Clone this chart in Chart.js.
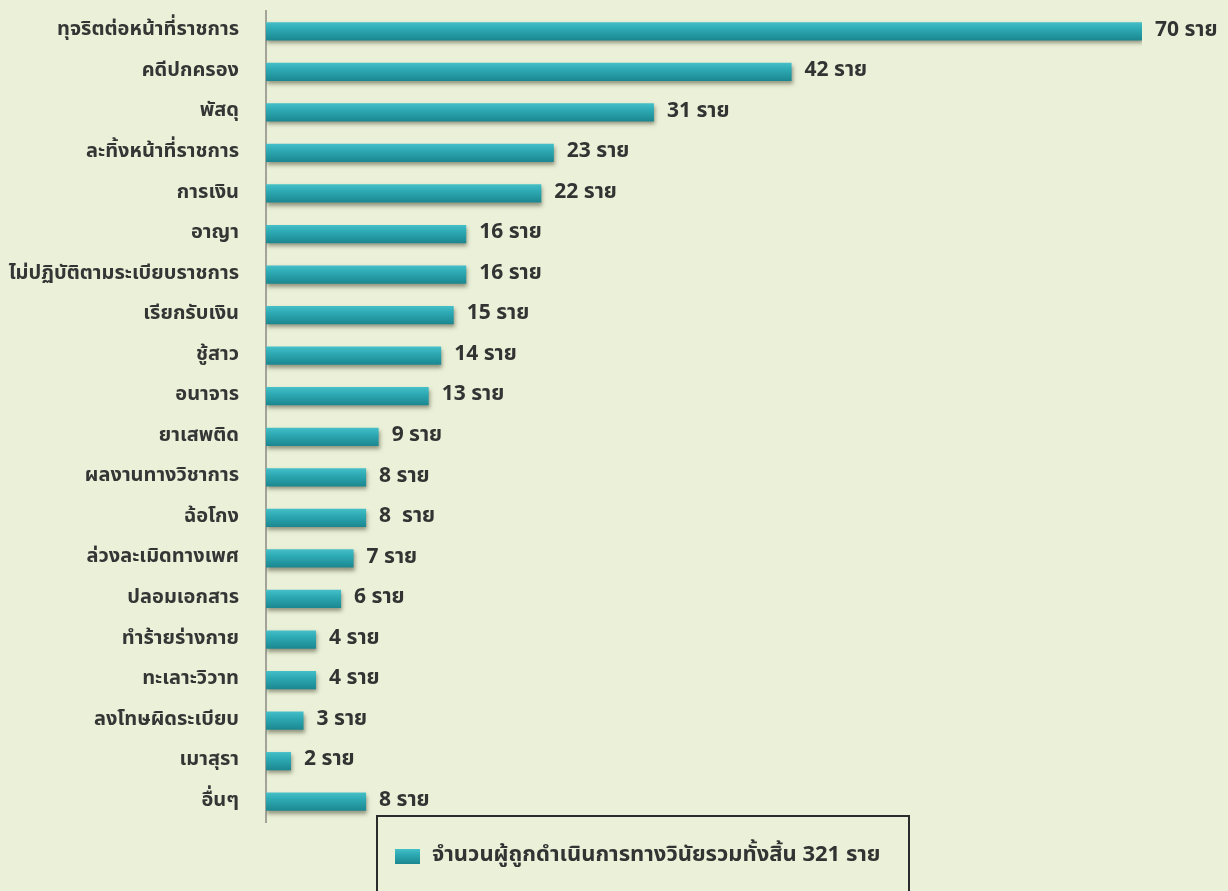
<!DOCTYPE html>
<html>
<head>
<meta charset="utf-8">
<script src="https://cdn.jsdelivr.net/npm/chart.js@4.4.0/dist/chart.umd.min.js"></script>
<style>
  html, body { margin: 0; padding: 0; background: #ebf1d8; overflow: hidden; }
  #wrap { width: 1228px; height: 891px; position: relative; }
</style>
</head>
<body>
<div id="wrap"><canvas id="chart" width="1228" height="891"></canvas></div>
<script>
const categories = [
  'ทุจริตต่อหน้าที่ราชการ', 'คดีปกครอง', 'พัสดุ', 'ละทิ้งหน้าที่ราชการ', 'การเงิน',
  'อาญา', 'ไม่ปฏิบัติตามระเบียบราชการ', 'เรียกรับเงิน', 'ชู้สาว', 'อนาจาร',
  'ยาเสพติด', 'ผลงานทางวิชาการ', 'ฉ้อโกง', 'ล่วงละเมิดทางเพศ', 'ปลอมเอกสาร',
  'ทำร้ายร่างกาย', 'ทะเลาะวิวาท', 'ลงโทษผิดระเบียบ', 'เมาสุรา', 'อื่นๆ'
];
const counts = [70, 42, 31, 23, 22, 16, 16, 15, 14, 13, 9, 8, 8, 7, 6, 4, 4, 3, 2, 8];
const valueLabels = [
  '70 ราย', '42 ราย', '31 ราย', '23 ราย', '22 ราย', '16 ราย', '16 ราย', '15 ราย', '14 ราย', '13 ราย',
  '9 ราย', '8 ราย', '8  ราย', '7 ราย', '6 ราย', '4 ราย', '4 ราย', '3 ราย', '2 ราย', '8 ราย'
];
const legendLabel = 'จำนวนผู้ถูกดำเนินการทางวินัยรวมทั้งสิ้น 321 ราย';

const FONT = '"Noto Sans Thai", Tahoma, "Noto Sans", "DejaVu Sans", sans-serif';

function tealGradient(ctx, top, bottom) {
  const g = ctx.createLinearGradient(0, top, 0, bottom);
  g.addColorStop(0, '#45bfc8');
  g.addColorStop(0.35, '#2eabb5');
  g.addColorStop(1, '#1b8790');
  return g;
}

// shadow under the bars
const barShadow = {
  id: 'barShadow',
  beforeDatasetsDraw(chart) {
    const ctx = chart.ctx;
    ctx.save();
    ctx.shadowColor = 'rgba(60, 60, 40, 0.5)';
    ctx.shadowBlur = 4;
    ctx.shadowOffsetY = 3;
    ctx.shadowOffsetX = 1;
  },
  afterDatasetsDraw(chart) {
    chart.ctx.restore();
  }
};

// "xx ราย" after each bar
const valueText = {
  id: 'valueText',
  afterDatasetsDraw(chart) {
    const ctx = chart.ctx;
    const meta = chart.getDatasetMeta(0);
    ctx.save();
    ctx.font = 'bold 21px ' + FONT;
    ctx.fillStyle = '#333333';
    ctx.textAlign = 'left';
    ctx.textBaseline = 'middle';
    meta.data.forEach((bar, i) => {
      ctx.fillText(valueLabels[i], bar.x + 13, bar.y);
    });
    ctx.restore();
  }
};

// boxed legend under the chart
const boxLegend = {
  id: 'boxLegend',
  afterDraw(chart) {
    const ctx = chart.ctx;
    ctx.save();
    ctx.strokeStyle = '#2b2b2b';
    ctx.lineWidth = 2;
    ctx.strokeRect(377, 816, 532, 90);
    ctx.fillStyle = tealGradient(ctx, 849, 864);
    ctx.fillRect(395, 849, 25, 15);
    ctx.font = 'bold 22px ' + FONT;
    ctx.fillStyle = '#333333';
    ctx.textBaseline = 'middle';
    ctx.fillText(legendLabel, 432, 857);
    ctx.restore();
  }
};

const myChart = new Chart(document.getElementById('chart'), {
  type: 'bar',
  data: {
    labels: categories,
    datasets: [{
      label: legendLabel,
      data: counts,
      backgroundColor: (context) => {
        const chart = context.chart;
        if (!chart.chartArea || !chart.scales.y) return '#2aa9b3';
        const y = chart.scales.y.getPixelForValue(context.dataIndex);
        return tealGradient(chart.ctx, y - 9, y + 9);
      },
      borderWidth: 0,
      barPercentage: 0.45,
      categoryPercentage: 1.0,
    }],
  },
  options: {
    indexAxis: 'y',
    responsive: false,
    animation: false,
    devicePixelRatio: 1,
    layout: { padding: { top: 11, right: 86, bottom: 69, left: 0 } },
    plugins: {
      legend: { display: false },
      tooltip: { enabled: false },
    },
    scales: {
      x: {
        display: false,
        min: 0,
        max: 70,
      },
      y: {
        afterFit: (scale) => {
          scale.width = 266;
          scale.paddingTop = 0;
          scale.paddingBottom = 0;
        },
        grid: { display: false, drawTicks: false },
        border: { display: true, color: '#a3a39a', width: 2 },
        ticks: {
          autoSkip: false,
          color: '#353535',
          padding: 27,
          font: { family: FONT, size: 20, weight: 'bold' },
        },
      },
    },
  },
  plugins: [barShadow, valueText, boxLegend],
});
</script>
</body>
</html>
